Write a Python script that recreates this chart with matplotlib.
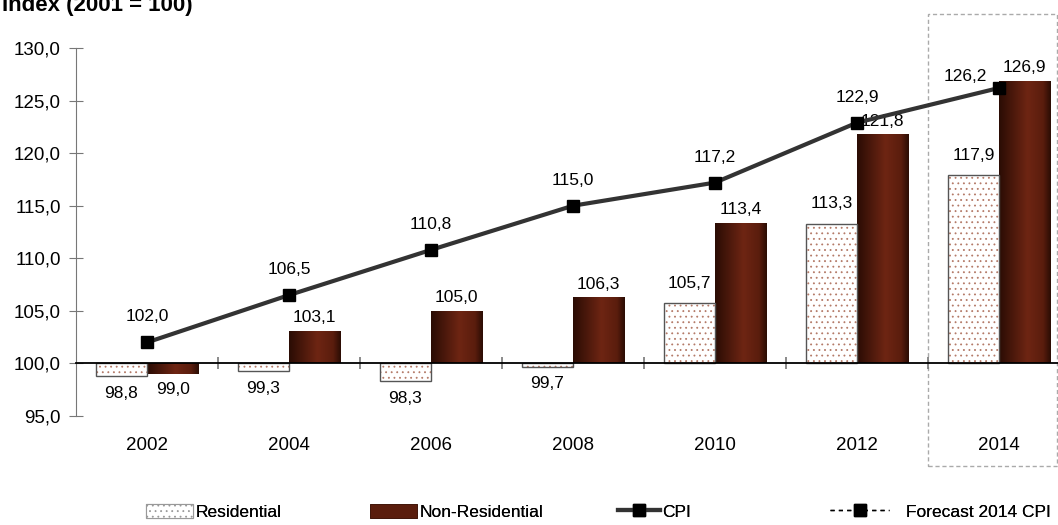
"""
Residential vs non-residential index with CPI line, 2002-2014 (2001 = 100).
"""

import matplotlib

matplotlib.use("Agg")
import matplotlib.pyplot as plt
import matplotlib.transforms as mtransforms
import numpy as np
from matplotlib.colors import LinearSegmentedColormap
from matplotlib.lines import Line2D
from matplotlib.patches import Patch, Rectangle
from matplotlib.ticker import FuncFormatter

# ---------------------------------------------------------------------------
# Data
# ---------------------------------------------------------------------------

YEARS = ["2002", "2004", "2006", "2008", "2010", "2012", "2014"]
RESIDENTIAL = [98.8, 99.3, 98.3, 99.7, 105.7, 113.3, 117.9]
NON_RESIDENTIAL = [99.0, 103.1, 105.0, 106.3, 113.4, 121.8, 126.9]
CPI = [102.0, 106.5, 110.8, 115.0, 117.2, 122.9, 126.2]
Y_TICKS = [95, 100, 105, 110, 115, 120, 125, 130]
BASE = 100.0

# ---------------------------------------------------------------------------
# Style
# ---------------------------------------------------------------------------

DOT_COLOR = "#b47a68"
OUTLINE = "#555555"
CPI_LINE = "#333333"
AXIS_GREY = "#777777"
BAR_W = 0.36

brown_cmap = LinearSegmentedColormap.from_list(
    "brown", [(0.0, "#2a0c04"), (0.55, "#6e2513"), (0.85, "#5a1d0d"), (1.0, "#2a0c04")]
)

plt.rcParams["font.family"] = ["Liberation Sans", "DejaVu Sans"]
plt.rcParams["hatch.linewidth"] = 0.6


def comma(v, _pos=None):
    return f"{v:.1f}".replace(".", ",")


fig = plt.figure(figsize=(10.58, 5.25), dpi=100)
ax = fig.add_axes([76 / 1058, 1 - 416 / 525, 982 / 1058, 368 / 525])

x = np.arange(len(YEARS))

# Residential: dotted white bars with an outline
ax.bar(x - BAR_W / 2, np.array(RESIDENTIAL) - BASE, BAR_W, bottom=BASE,
       facecolor="white", edgecolor=DOT_COLOR, linewidth=0, hatch="...", zorder=2)
ax.bar(x - BAR_W / 2, np.array(RESIDENTIAL) - BASE, BAR_W, bottom=BASE,
       facecolor="none", edgecolor=OUTLINE, linewidth=1.0, zorder=2.1)

# Non-residential: brown bars with a horizontal gradient
nr_bars = ax.bar(x + BAR_W / 2, np.array(NON_RESIDENTIAL) - BASE, BAR_W, bottom=BASE,
                 color="#5a1d0d", linewidth=0, zorder=2)
grad = np.linspace(0, 1, 256).reshape(1, -1)
for bar in nr_bars:
    x0, x1 = bar.get_x(), bar.get_x() + bar.get_width()
    y0, y1 = sorted([bar.get_y(), bar.get_y() + bar.get_height()])
    im = ax.imshow(grad, cmap=brown_cmap, extent=(x0, x1, y0, y1),
                   aspect="auto", zorder=2.05, interpolation="bicubic")
    im.set_clip_path(bar)

# CPI line
ax.plot(x, CPI, color=CPI_LINE, linewidth=3, marker="s", markersize=8.5,
        markerfacecolor="black", markeredgecolor="black", zorder=4)

ax.set_xlim(-0.5, 6.415)
ax.set_ylim(Y_TICKS[0], Y_TICKS[-1])

# Value labels
LABEL_FS = 12.5
for i in x:
    r, n, c = RESIDENTIAL[i], NON_RESIDENTIAL[i], CPI[i]
    if r >= BASE:
        ax.annotate(comma(r), (i - BAR_W / 2, r), xytext=(0, 9), textcoords="offset points",
                    ha="center", va="bottom", fontsize=LABEL_FS)
    else:
        ax.annotate(comma(r), (i - BAR_W / 2, r), xytext=(0, -7), textcoords="offset points",
                    ha="center", va="top", fontsize=LABEL_FS)
    if n >= BASE:
        ax.annotate(comma(n), (i + BAR_W / 2, n), xytext=(0, 4), textcoords="offset points",
                    ha="center", va="bottom", fontsize=LABEL_FS)
    else:
        ax.annotate(comma(n), (i + BAR_W / 2, n), xytext=(0, -6), textcoords="offset points",
                    ha="center", va="top", fontsize=LABEL_FS)
    if i == len(YEARS) - 1:
        ax.annotate(comma(c), (i, c), xytext=(-24, 8), textcoords="offset points",
                    ha="center", va="center", fontsize=LABEL_FS, zorder=5)
    else:
        ax.annotate(comma(c), (i, c), xytext=(0, 13), textcoords="offset points",
                    ha="center", va="bottom", fontsize=LABEL_FS, zorder=5)

# Axes styling
for side in ("top", "right"):
    ax.spines[side].set_visible(False)
ax.spines["left"].set_color(AXIS_GREY)
ax.spines["bottom"].set_position(("data", BASE))
ax.spines["bottom"].set_color("black")
ax.spines["bottom"].set_linewidth(1.3)

ax.set_yticks(Y_TICKS)
ax.yaxis.set_major_formatter(FuncFormatter(comma))
ax.tick_params(axis="y", direction="inout", length=10, color=AXIS_GREY,
               labelsize=13.5, pad=6)

ax.set_xticks(x)
ax.set_xticklabels(YEARS)
ax.set_xticks(x[:-1] + 0.5, minor=True)
ax.tick_params(axis="x", which="major", length=0, labelsize=13.5, pad=53)
ax.tick_params(axis="x", which="minor", direction="inout", length=8.6,
               color=AXIS_GREY, width=1.2)

# Dashed forecast box around 2014
trans = mtransforms.blended_transform_factory(ax.transData, ax.transAxes)
ax.add_patch(Rectangle((5.5, -0.136), 6.41 - 5.5, 1.092 + 0.136, transform=trans,
                       fill=False, edgecolor="#aaaaaa", linestyle=(0, (3, 2)),
                       linewidth=1.0, clip_on=False, zorder=1))

# Title (cut at the top edge as in the source)
fig.text(0.002, 1 - 11 / 525, "Index (2001 = 100)", fontsize=16, fontweight="bold",
         ha="left", va="baseline")

# Legend, one entry at a time
legend_items = [
    (Patch(facecolor="white", edgecolor="#999999", hatch="...", linewidth=0.8),
     "Residential", 146 / 1058, 2.7, 0.15),
    (Patch(facecolor="#5a1d0d", edgecolor="#3a1206", linewidth=0.5),
     "Non-Residential", 370 / 1058, 2.7, 0.15),
    (Line2D([], [], color=CPI_LINE, linewidth=3, marker="s", markersize=8.5,
            markerfacecolor="black", markeredgecolor="black"),
     "CPI", 618 / 1058, 2.4, 0.15),
    (Line2D([], [], color="black", linewidth=1, linestyle=(0, (3, 3)), marker="s",
            markersize=8.5, markerfacecolor="black"),
     "Forecast 2014 CPI", 830 / 1058, 3.4, 1.0),
]
for handle, label, xpos, hlen, tpad in legend_items:
    leg = fig.legend([handle], [label], loc="center left",
                     bbox_to_anchor=(xpos, 1 - 512 / 525), frameon=False,
                     fontsize=12.5, handlelength=hlen, handleheight=0.9,
                     handletextpad=tpad, borderpad=0, borderaxespad=0)
    fig.add_artist(leg)

fig.savefig("out.png", dpi=100)
